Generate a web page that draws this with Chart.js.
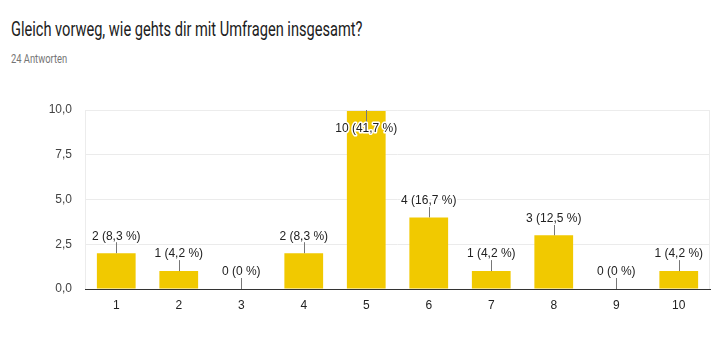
<!DOCTYPE html>
<html>
<head>
<meta charset="utf-8">
<script src="https://cdn.jsdelivr.net/npm/chart.js@4"></script>
<style>
  body { margin: 0; background: #fff; }
  #wrap { position: relative; width: 724px; height: 350px; }
  #title { position: absolute; left: 11px; top: 17px; font: 20px Roboto, sans-serif; color: #212121; white-space: nowrap; transform: scaleX(0.73); transform-origin: left top; }
  #sub { position: absolute; left: 11px; top: 52px; font: 12px Roboto, sans-serif; color: #757575; white-space: nowrap; transform: scaleX(0.78); transform-origin: left top; }
  canvas { position: absolute; left: 0; top: 0; }
</style>
</head>
<body>
<div id="wrap">
  <div id="title">Gleich vorweg, wie gehts dir mit Umfragen insgesamt?</div>
  <div id="sub">24 Antworten</div>
  <canvas id="chart" width="724" height="350"></canvas>
</div>
<script>
// answers on the 1..10 scale
const categories = ['1', '2', '3', '4', '5', '6', '7', '8', '9', '10'];
const counts = [2, 1, 0, 2, 10, 4, 1, 3, 0, 1];
const percentLabels = ['8,3 %', '4,2 %', '0 %', '8,3 %', '41,7 %', '16,7 %', '4,2 %', '12,5 %', '0 %', '4,2 %'];
const yTicks = [0, 2.5, 5, 7.5, 10];

// labels with small leader lines above each bar
const valueLabels = {
    id: 'valueLabels',
    afterDatasetsDraw(chart) {
        const ctx = chart.ctx;
        const area = chart.chartArea;
        const bars = chart.getDatasetMeta(0).data;
        ctx.save();
        // light frame around the plot
        ctx.strokeStyle = '#ececec';
        ctx.lineWidth = 1;
        ctx.beginPath();
        ctx.moveTo(area.left + 0.5, area.bottom);
        ctx.lineTo(area.left + 0.5, area.top + 0.5);
        ctx.lineTo(area.right - 0.5, area.top + 0.5);
        ctx.lineTo(area.right - 0.5, area.bottom);
        ctx.stroke();

        ctx.font = '12px Arial, "Liberation Sans", sans-serif';
        ctx.textAlign = 'center';
        ctx.textBaseline = 'middle';
        bars.forEach((bar, i) => {
            const x = Math.round(bar.x) + 0.5;
            const top = bar.y;
            let lineEnd, textY;
            if (top - 20 < area.top) {
                lineEnd = top + 12;
                textY = top + 19;
            } else {
                lineEnd = top - 11;
                textY = top - 17;
            }
            ctx.strokeStyle = '#777';
            ctx.lineWidth = 1;
            ctx.beginPath();
            ctx.moveTo(x, top);
            ctx.lineTo(x, lineEnd);
            ctx.stroke();
            const text = counts[i] + ' (' + percentLabels[i] + ')';
            ctx.strokeStyle = '#fff';
            ctx.lineWidth = 3;
            ctx.lineJoin = 'round';
            ctx.strokeText(text, bar.x, textY);
            ctx.fillStyle = '#222';
            ctx.fillText(text, bar.x, textY);
        });
        ctx.restore();
    }
};

new Chart(document.getElementById('chart').getContext('2d'), {
    type: 'bar',
    data: {
        labels: categories,
        datasets: [{
            data: counts,
            backgroundColor: '#f1c900',
            barPercentage: 0.62,
            categoryPercentage: 1
        }]
    },
    options: {
        responsive: false,
        animation: false,
        layout: { padding: { top: 110, right: 14, bottom: 0, left: 0 } },
        plugins: {
            legend: { display: false },
            tooltip: { enabled: false }
        },
        scales: {
            x: {
                grid: { display: false, drawTicks: false },
                border: { color: '#333', width: 1 },
                ticks: { color: '#222', padding: 9, font: { family: 'Arial', size: 12 } },
                afterFit(scale) { scale.height = 61; }
            },
            y: {
                min: 0,
                max: 10,
                afterBuildTicks(scale) { scale.ticks = yTicks.map(v => ({ value: v })); },
                grid: { color: '#ebebeb', drawTicks: false },
                border: { display: false },
                ticks: {
                    color: '#444',
                    padding: 13,
                    font: { family: 'Arial', size: 12 },
                    callback: v => v.toFixed(1).replace('.', ',')
                },
                afterFit(scale) { scale.width = 85; }
            }
        }
    },
    plugins: [valueLabels]
});
</script>
</body>
</html>
